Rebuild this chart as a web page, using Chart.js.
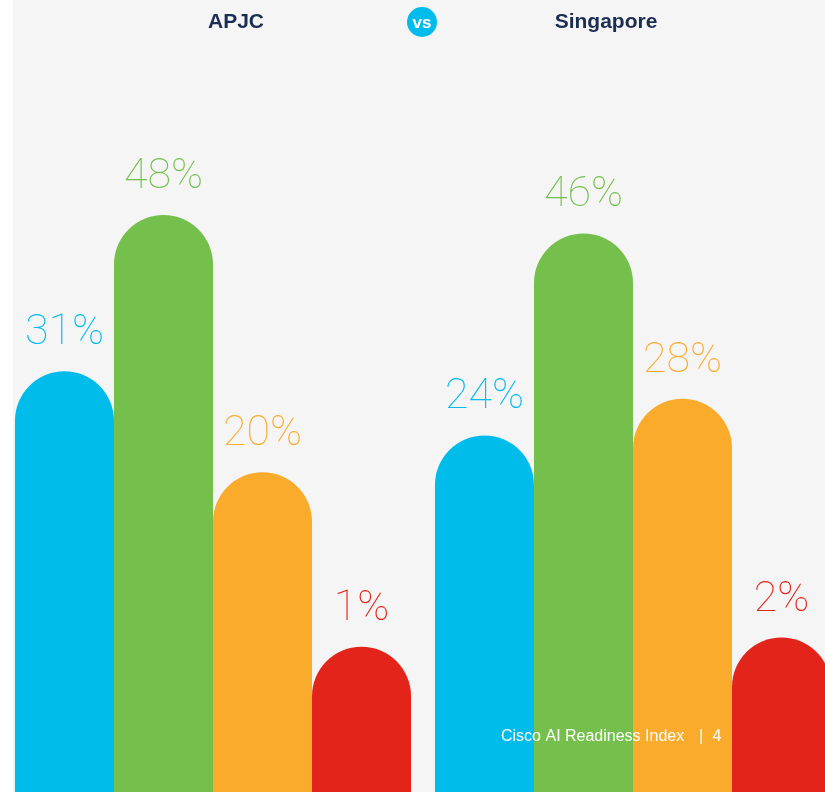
<!DOCTYPE html>
<html>
<head>
<meta charset="utf-8">
<script src="https://cdn.jsdelivr.net/npm/chart.js@4/dist/chart.umd.min.js"></script>
<style>
  html, body { margin: 0; padding: 0; background: #ffffff; overflow: hidden; }
  #wrap { position: relative; width: 825px; height: 792px; overflow: hidden; }
  #chart { position: absolute; left: 0; top: 0; }
</style>
</head>
<body>
<div id="wrap"><canvas id="chart" width="846" height="792"></canvas></div>
<script>
/* AI readiness split, APJC vs Singapore */

const groups = ['APJC', 'Singapore'];
const seriesNames = ['Pacesetters', 'Chasers', 'Followers', 'Laggards'];
const pacesetters = [31, 24];
const chasers = [48, 46];
const followers = [20, 28];
const laggards = [1, 2];

const COLORS = {
    blue: '#00bceb',
    green: '#75bf4c',
    amber: '#fbab2c',
    red: '#e2241b',
    bg: '#f5f5f5',
    navy: '#1c2d52',
};

// value axis runs below zero so every bar keeps a stem at the bottom
const Y_MIN = -14.82;
const Y_MAX = 71.41;

const seriesValues = [pacesetters, chasers, followers, laggards];
const seriesColors = [COLORS.blue, COLORS.green, COLORS.amber, COLORS.red];

const datasets = seriesNames.map((name, i) => ({
    label: name,
    data: seriesValues[i],
    backgroundColor: seriesColors[i],
    base: Y_MIN,
    borderWidth: 0,
    borderSkipped: 'start',
    borderRadius: { topLeft: 80, topRight: 80, bottomLeft: 0, bottomRight: 0 },
    barPercentage: 1,
    categoryPercentage: 0.943,
}));

const decorPlugin = {
    id: 'decor',
    beforeDraw(chart) {
        const ctx = chart.ctx;
        ctx.save();
        ctx.fillStyle = '#ffffff';
        ctx.fillRect(0, 0, chart.width, chart.height);
        ctx.fillStyle = COLORS.bg;
        ctx.fillRect(13, 0, chart.width - 13, chart.height);

        // headings
        ctx.fillStyle = COLORS.navy;
        ctx.font = "bold 21px 'Liberation Sans', Arial, sans-serif";
        ctx.textAlign = 'center';
        ctx.textBaseline = 'alphabetic';
        ctx.fillText(groups[0], 236, 28);
        ctx.fillText(groups[1], 606, 28);

        // vs badge
        ctx.beginPath();
        ctx.arc(422, 22, 15, 0, Math.PI * 2);
        ctx.fillStyle = COLORS.blue;
        ctx.fill();
        ctx.fillStyle = '#ffffff';
        ctx.font = "bold 17px 'Liberation Sans', Arial, sans-serif";
        ctx.fillText('vs', 422, 28);
        ctx.restore();
    },
    afterDatasetsDraw(chart) {
        const ctx = chart.ctx;
        ctx.save();
        ctx.textAlign = 'center';
        ctx.textBaseline = 'alphabetic';
        ctx.font = "100 43px Roboto, 'Liberation Sans', sans-serif";
        chart.data.datasets.forEach((ds, di) => {
            chart.getDatasetMeta(di).data.forEach((bar, i) => {
                ctx.fillStyle = ds.backgroundColor;
                ctx.fillText(ds.data[i] + '%', bar.x, bar.y - 27);
            });
        });

        // footer
        ctx.fillStyle = '#ffffff';
        ctx.font = "16px 'Liberation Sans', Arial, sans-serif";
        ctx.textAlign = 'left';
        ctx.fillText('Cisco AI Readiness Index', 501, 741);
        ctx.textAlign = 'center';
        ctx.fillText('|', 701, 741);
        ctx.fillText('4', 717, 741);
        ctx.restore();
    },
};

new Chart(document.getElementById('chart'), {
    type: 'bar',
    data: { labels: groups, datasets: datasets },
    options: {
        responsive: false,
        animation: false,
        layout: { padding: { left: 3, right: 3, top: 0, bottom: 0 } },
        scales: {
            x: { display: false, grid: { display: false } },
            y: { display: false, min: Y_MIN, max: Y_MAX, grid: { display: false } },
        },
        plugins: {
            legend: { display: false },
            tooltip: { enabled: false },
        },
    },
    plugins: [decorPlugin],
});
</script>
</body>
</html>
